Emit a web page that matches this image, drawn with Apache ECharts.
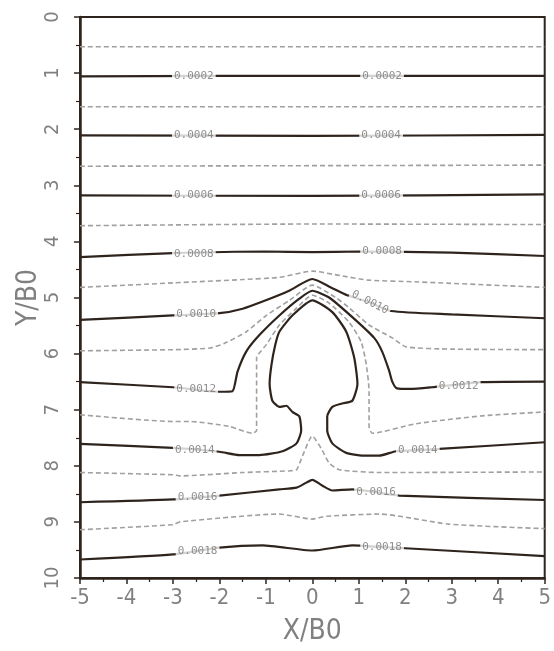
<!DOCTYPE html>
<html><head><meta charset="utf-8">
<script src="https://cdn.jsdelivr.net/npm/echarts@6/dist/echarts.min.js"></script>
<style>html,body{margin:0;padding:0;background:#fff}#c{width:554px;height:651px}</style>
</head><body><div id="c"></div>
<script>
// contour lines, points are [X/B0, Y/B0]
const c0001 = [[-5,0.53],[5,0.53]];
const c0002 = [[-5,1.06],[-2,1.05],[2,1.05],[5,1.05]];
const c0003 = [[-5,1.6],[5,1.6]];
const c0004 = [[-5,2.11],[0,2.12],[5,2.1]];
const c0005 = [[-5,2.66],[5,2.64]];
const c0006 = [[-5,3.18],[0,3.19],[5,3.16]];
const c0007 = [[-5,3.72],[0,3.69],[5,3.7]];
const c0008 = [[-5,4.28],[-3,4.21],[-1,4.18],[0,4.19],[1,4.18],[3,4.2],[5,4.26]];
const c0009 = [[-5,4.82],[-3,4.74],[-1.5,4.68],[-0.7,4.64],[0,4.53],[0.6,4.61],[1.2,4.69],[2.2,4.72],[5,4.82]];
const c0010 = [[-5,5.4],[-3,5.32],[-2,5.28],[-1.5,5.2],[-1,5.05],[-0.5,4.88],[0,4.67],[0.4,4.82],[0.75,4.96],[1.24,5.09],[1.7,5.24],[3,5.3],[5,5.37]];
const c0011 = [[-5,5.95],[-3,5.93],[-2.2,5.9],[-1.9,5.82],[-1.42,5.61],[-0.99,5.32],[-0.49,5.05],[0,4.78],[0.5,5.0],[0.8,5.19],[1.22,5.49],[1.72,5.72],[2.02,5.88],[3,5.92],[5,5.93]];
const c0012 = [[-5,6.51],[-3,6.6],[-2,6.68],[-1.72,6.67],[-1.61,6.32],[-1.42,5.96],[-1.14,5.67],[-0.71,5.32],[-0.28,5.02],[0,4.88],[0.36,5.0],[0.86,5.35],[1.33,5.72],[1.5,5.96],[1.65,6.3],[1.72,6.5],[1.82,6.62],[2.1,6.63],[2.57,6.6],[3.65,6.51],[5,6.5]];
const c0013 = [[-5,7.09],[-3,7.21],[-2.64,7.21],[-1.78,7.3],[-1.29,7.42],[-1.2,7.37],[-1.2,6.07],[-1.1,5.95],[-0.99,5.84],[-0.71,5.49],[-0.34,5.19],[0,4.96],[0.36,5.1],[0.79,5.44],[1.05,5.79],[1.16,6.19],[1.22,6.67],[1.22,7.3],[1.29,7.42],[2.23,7.25],[3.65,7.11],[5,7.04]];
const c0014 = [[-5,7.61],[-3,7.68],[-2,7.75],[-1.57,7.81],[-1.14,7.81],[-0.64,7.74],[-0.34,7.6],[-0.24,7.37],[-0.28,7.12],[-0.43,7.04],[-0.56,6.93],[-0.71,6.95],[-0.86,6.84],[-0.92,6.54],[-0.88,6.2],[-0.8,5.85],[-0.71,5.61],[-0.43,5.32],[0,5.05],[0.43,5.26],[0.73,5.61],[0.9,6.07],[0.97,6.54],[0.86,6.84],[0.64,6.89],[0.43,6.95],[0.32,7.12],[0.32,7.37],[0.43,7.6],[0.73,7.77],[1.16,7.82],[1.44,7.82],[1.8,7.74],[2.27,7.72],[2.73,7.7],[5,7.58]];
const c0015 = [[-5,8.12],[-3,8.16],[-2.85,8.18],[-1.5,8.12],[-0.49,8.09],[-0.34,8.07],[-0.21,7.82],[0,7.47],[0.21,7.72],[0.36,7.95],[0.58,8.07],[1.44,8.12],[5,8.11]];
const c0016 = [[-5,8.65],[-3,8.6],[-2,8.53],[-0.71,8.42],[-0.34,8.39],[-0.13,8.3],[0,8.25],[0.21,8.35],[0.43,8.44],[0.86,8.42],[1.37,8.47],[1.87,8.53],[5,8.61]];
const c0017 = [[-5,9.14],[-3,9.05],[-2.85,9.0],[-0.71,8.86],[0,8.95],[0.3,8.9],[1.44,8.86],[2.94,9.04],[5,9.12]];
const c0018 = [[-5,9.67],[-3,9.58],[-2,9.46],[-1.07,9.42],[0,9.51],[0.86,9.42],[1.5,9.45],[2,9.47],[5,9.61]];

const contourLines = [c0001,c0002,c0003,c0004,c0005,c0006,c0007,c0008,c0009,c0010,c0011,c0012,c0013,c0014,c0015,c0016,c0017,c0018];
const contourDashed = [true,false,true,false,true,false,true,false,true,false,true,false,true,false,true,false,true,false];

// inline contour labels
const labelText  = ['0.0002','0.0002','0.0004','0.0004','0.0006','0.0006','0.0008','0.0008','0.0010','0.0010','0.0012','0.0012','0.0014','0.0014','0.0016','0.0016','0.0018','0.0018'];
const labelX     = [-2.55,1.5,-2.55,1.48,-2.55,1.48,-2.55,1.5,-2.5,1.24,-2.5,3.15,-2.53,2.27,-2.47,1.37,-2.47,1.5];
const labelY     = [1.05,1.05,2.11,2.11,3.18,3.18,4.22,4.18,5.3,5.09,6.64,6.58,7.72,7.72,8.56,8.47,9.52,9.45];
const labelAngle = [0,0,0,0,0,0,0,0,0,-27,0,0,0,0,0,0,0,0];

const axisTitleX = 'X/B0';
const axisTitleY = 'Y/B0';

const INK = '#2e241d';
const GREY = '#808080';
const tickFont = "'Liberation Sans Narrow','DejaVu Sans Condensed','Liberation Sans',sans-serif";

const series = contourLines.map((pts, i) => ({
  type: 'line',
  data: pts,
  showSymbol: false,
  symbol: 'none',
  smooth: 0.2,
  silent: true,
  z: contourDashed[i] ? 2 : 3,
  lineStyle: contourDashed[i]
    ? { color: '#a0a0a0', width: 1.6, type: [5, 3] }
    : { color: INK, width: 2.2, type: 'solid' }
}));

series.push({
  type: 'scatter',
  z: 10,
  symbolSize: 0,
  silent: true,
  data: labelText.map((t, i) => ({
    value: [labelX[i], labelY[i], t],
    label: { rotate: labelAngle[i] }
  })),
  label: {
    show: true,
    position: 'inside',
    formatter: p => p.value[2],
    fontFamily: "'DejaVu Sans Mono',monospace",
    fontSize: 11,
    color: '#747474',
    backgroundColor: '#fff',
    padding: [0, 2]
  }
});

const chart = echarts.init(document.getElementById('c'), null, { renderer: 'canvas' });
chart.setOption({
  animation: false,
  backgroundColor: '#fff',
  grid: { left: 80, right: 8, top: 17, bottom: 64, show: true, borderColor: INK, borderWidth: 2, backgroundColor: 'transparent' },
  xAxis: {
    type: 'value', min: -5, max: 5, interval: 1,
    name: axisTitleX, nameLocation: 'middle', nameGap: 40,
    nameTextStyle: { fontFamily: tickFont, fontSize: 28, color: GREY },
    axisLine: { show: true, onZero: false, lineStyle: { color: INK, width: 2.5 } },
    axisTick: { show: true, length: 6, lineStyle: { color: INK, width: 1.5 } },
    minorTick: { show: true, splitNumber: 2, length: 4, lineStyle: { color: INK, width: 1.2 } },
    splitLine: { show: false },
    axisLabel: { fontFamily: tickFont, fontSize: 22, color: GREY, margin: 9 }
  },
  yAxis: {
    type: 'value', min: 0, max: 10, interval: 1, inverse: true,
    name: axisTitleY, nameLocation: 'middle', nameGap: 37, nameMoveOverlap: false,
    nameTextStyle: { fontFamily: tickFont, fontSize: 28, color: GREY },
    axisLine: { show: true, onZero: false, lineStyle: { color: INK, width: 2.5 } },
    axisTick: { show: true, length: 6, lineStyle: { color: INK, width: 1.5 } },
    minorTick: { show: true, splitNumber: 2, length: 4, lineStyle: { color: INK, width: 1.2 } },
    splitLine: { show: false },
    axisLabel: { fontFamily: tickFont, fontSize: 20, color: GREY, margin: 17, rotate: 90 }
  },
  series: series
});
</script>
</body></html>
